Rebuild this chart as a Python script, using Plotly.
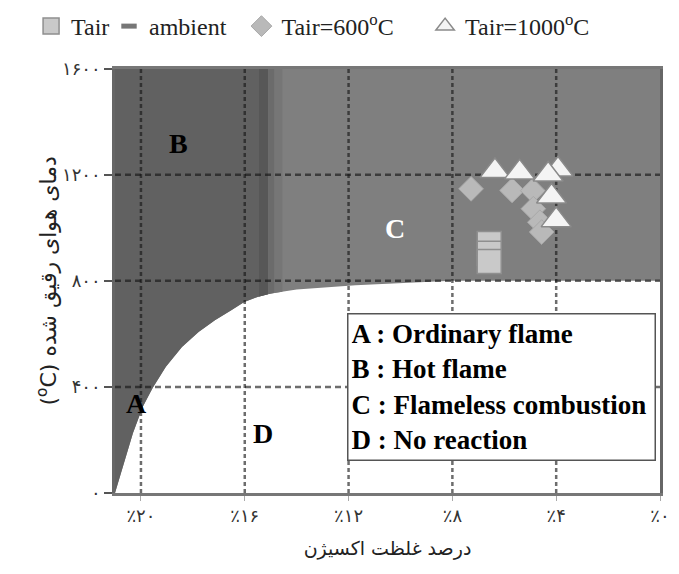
import numpy as np
import plotly.graph_objects as go

# Boundary between the reacting zones and the "no reaction" zone:
# oxygen concentration (%) vs. diluted air temperature (deg C)
boundary_o2 = [21.0, 20.62, 20.31, 19.93, 19.55, 19.04, 18.42, 17.78, 17.15, 16.52,
               16.02, 15.51, 15.01, 14.0, 12.74, 11.73, 9.47, 8.0, 0.0]
boundary_temp = [0, 124, 225, 325, 396, 476, 551, 607, 651, 689,
                 720, 739, 752, 767, 777, 783, 794, 800, 800]

# right edge of the hot-flame zone (B) and its shading bands
hot_flame_edge_o2 = 15.1
shadow_band_o2 = [15.45, 15.1]
fade_bands_o2 = [[15.1, 14.85], [14.85, 14.55]]
fade_band_colors = ["#6b6b6b", "#767676"]

# measured operating points
ambient_o2 = [6.58, 6.58, 6.58]
ambient_temp = [941, 904, 873]
t600_o2 = [7.28, 5.70, 4.90, 4.88, 4.63, 4.56]
t600_temp = [1147, 1141, 1140, 1072, 1021, 984]
t1000_o2 = [3.93, 6.36, 5.41, 4.31, 4.18, 4.00]
t1000_temp = [1220, 1214, 1209, 1201, 1118, 1029]

# axes
O2_MAX, O2_MIN = 21.0, 0.0
T_MIN, T_MAX = 0, 1600
x_ticks = [20, 16, 12, 8, 4, 0]
x_tick_text = ["٪۲۰", "٪۱۶", "٪۱۲", "٪۸", "٪۴", "٪۰"]
y_ticks = [0, 400, 800, 1200, 1600]
y_tick_text = ["۰", "۴۰۰", "۸۰۰", "۱۲۰۰", "۱۶۰۰"]

# zone letters
region_labels = ["A", "B", "C", "D"]
region_o2 = [20.19, 18.56, 10.23, 15.3]
region_temp = [339, 1317, 997, 226]
region_colors = ["black", "black", "white", "black"]

key_lines = ["A : Ordinary flame", "B : Hot flame", "C : Flameless combustion", "D : No reaction"]

SERIF = "Liberation Serif"
PERSIAN = "DejaVu Sans"

bx = np.array(boundary_o2)[::-1]
by = np.array(boundary_temp)[::-1]


def zone(o2_hi, o2_lo):
    """Polygon above the boundary curve between two oxygen levels."""
    inner = [(x, y) for x, y in zip(boundary_o2, boundary_temp) if o2_lo < x < o2_hi]
    xs = [o2_hi] + [p[0] for p in inner] + [o2_lo, o2_lo, o2_hi]
    ys = ([float(np.interp(o2_hi, bx, by))] + [p[1] for p in inner]
          + [float(np.interp(o2_lo, bx, by)), T_MAX, T_MAX])
    return xs, ys


fig = go.Figure()


def add_zone(o2_hi, o2_lo, color):
    xs, ys = zone(o2_hi, o2_lo)
    fig.add_trace(go.Scatter(x=xs, y=ys, fill="toself", fillcolor=color,
                             mode="lines", line=dict(width=0), hoverinfo="skip",
                             showlegend=False))


# flameless (light) zone over the whole range, then the hot-flame zone
add_zone(O2_MAX, O2_MIN, "#7f7f7f")
add_zone(O2_MAX, hot_flame_edge_o2, "#616161")
add_zone(shadow_band_o2[0], shadow_band_o2[1], "#575757")
for (hi, lo), col in zip(fade_bands_o2, fade_band_colors):
    add_zone(hi, lo, col)

# grid drawn on top of the zone fills
gx, gy = [], []
for v in x_ticks:
    if v not in (O2_MIN, O2_MAX):
        gx += [v, v, None]
        gy += [T_MIN, T_MAX, None]
fig.add_trace(go.Scatter(x=gx, y=gy, mode="lines", hoverinfo="skip", showlegend=False,
                         line=dict(color="rgba(20,20,20,0.62)", width=2.5, dash="4px,3px")))
hx, hy = [], []
for h in y_ticks:
    if h not in (T_MIN, T_MAX):
        hx += [O2_MAX, O2_MIN, None]
        hy += [h, h, None]
fig.add_trace(go.Scatter(x=hx, y=hy, mode="lines", hoverinfo="skip", showlegend=False,
                         line=dict(color="rgba(20,20,20,0.62)", width=2.5, dash="6px,4px")))

# measured points
fig.add_trace(go.Scatter(
    x=t600_o2, y=t600_temp, mode="markers", name="Tair=600<sup>o</sup>C", legend="legend3",
    marker=dict(symbol="diamond", size=19, color="#b9b9b9", line=dict(color="#a8a8a8", width=1))))
fig.add_trace(go.Scatter(
    x=ambient_o2, y=ambient_temp, mode="markers", name="Tair", legend="legend",
    marker=dict(symbol="square", size=24, color="#c9c9c9", line=dict(color="#8f8f8f", width=1.5))))
fig.add_trace(go.Scatter(
    x=[None], y=[None], mode="markers", name="ambient", legend="legend2",
    marker=dict(symbol="line-ew", size=11, color="#777777", line=dict(color="#777777", width=6))))
fig.add_trace(go.Scatter(
    x=t1000_o2, y=t1000_temp, mode="markers", name="Tair=1000<sup>o</sup>C", legend="legend4",
    marker=dict(symbol="triangle-up", size=26, color="#f4f4f4", line=dict(color="#8a8a8a", width=1.5))))

# zone letters
for lab, xo, yt, col in zip(region_labels, region_o2, region_temp, region_colors):
    fig.add_annotation(x=xo, y=yt, text=f"<b>{lab}</b>", showarrow=False,
                       font=dict(family=SERIF, size=28, color=col))

# zone key box
fig.add_annotation(
    xref="paper", yref="paper", x=0.425, y=0.4235, xanchor="left", yanchor="top",
    text="<br>".join(f"<b>{t}</b>" for t in key_lines), align="left", valign="middle",
    showarrow=False, width=300, height=139, borderpad=3,
    bgcolor="white", bordercolor="#555555", borderwidth=1.5,
    font=dict(family=SERIF, size=27, color="black"))


def legend_box(x):
    return dict(orientation="h", yref="container", y=0.993, yanchor="top",
                x=x, xanchor="left", bgcolor="rgba(0,0,0,0)",
                font=dict(family=SERIF, size=24, color="#222222"))


fig.update_layout(
    width=679, height=574,
    margin=dict(l=115, r=9, t=68, b=81),
    font=dict(family=SERIF, color="#222222"),
    paper_bgcolor="white", plot_bgcolor="white",
    legend=legend_box(-0.154),
    legend2=legend_box(-0.011),
    legend3=legend_box(0.232),
    legend4=legend_box(0.569),
    xaxis=dict(range=[O2_MAX, O2_MIN], tickvals=x_ticks, ticktext=x_tick_text,
               showgrid=False, zeroline=False, showline=True, linecolor="#777777",
               linewidth=2.5, mirror=True, ticks="outside", ticklen=5, tickcolor="#aaaaaa",
               tickfont=dict(family=PERSIAN, size=18, color="#333333"),
               title=dict(text="درصد غلظت اکسیژن", standoff=17,
                          font=dict(family=PERSIAN, size=19, color="#222222"))),
    yaxis=dict(range=[T_MIN, T_MAX], tickvals=y_ticks, ticktext=y_tick_text,
               showgrid=False, zeroline=False, showline=True, linecolor="#666666",
               linewidth=2.5, mirror=True, ticks="outside", ticklen=8, tickcolor="#555555",
               tickwidth=2,
               tickfont=dict(family=PERSIAN, size=18, color="#333333"),
               title=dict(text="(<sup>o</sup>C) دمای هوای رقیق شده", standoff=0,
                          font=dict(family=PERSIAN, size=22, color="#222222"))),
)

fig.write_html("out.html")
